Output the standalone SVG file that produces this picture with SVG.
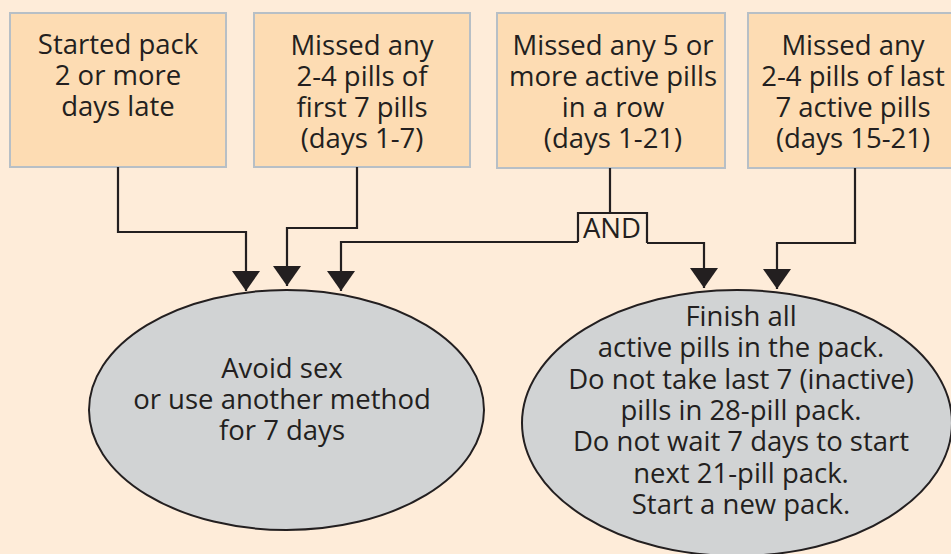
<svg xmlns="http://www.w3.org/2000/svg" width="951" height="554" viewBox="0 0 951 554">
<style>
.bg{fill:#feecd9}
.box{fill:#fddcb3;stroke:#b7bfc6;stroke-width:2}
.ell{fill:#d1d3d4;stroke:#231f20;stroke-width:2}
.t{font-family:"Open Sans","Noto Sans",sans-serif;font-size:27.5px;fill:#231f20;text-anchor:middle}
.c{fill:none;stroke:#231f20;stroke-width:2.2}
</style>
<defs>
<marker id="ah" markerUnits="userSpaceOnUse" viewBox="0 -14 20 28" markerWidth="20" markerHeight="28" refX="20" refY="0" orient="auto">
<path d="M0,-14 L20,0 L0,14 z" fill="#231f20"/>
</marker>
</defs>
<rect class="bg" x="0" y="0" width="951" height="554"/>
<g id="box1">
<rect class="box" x="10" y="13" width="216" height="154"/>
<text class="t" x="118" y="54"><tspan x="118">Started pack</tspan><tspan x="118" dy="31">2 or more</tspan><tspan x="118" dy="31">days late</tspan></text>
</g>
<g id="box2">
<rect class="box" x="254" y="13" width="216" height="154"/>
<text class="t" x="362" y="55"><tspan x="362">Missed any</tspan><tspan x="362" dy="31">2-4 pills of</tspan><tspan x="362" dy="31">first 7 pills</tspan><tspan x="362" dy="31">(days 1-7)</tspan></text>
</g>
<g id="box3">
<rect class="box" x="497" y="13" width="228" height="155"/>
<text class="t" x="613" y="55"><tspan x="613">Missed any 5 or</tspan><tspan x="613" dy="31">more active pills</tspan><tspan x="613" dy="31">in a row</tspan><tspan x="613" dy="31">(days 1-21)</tspan></text>
</g>
<g id="box4">
<rect class="box" x="748" y="13" width="220" height="155"/>
<text class="t" x="853" y="55"><tspan x="853">Missed any</tspan><tspan x="853" dy="31">2-4 pills of last</tspan><tspan x="853" dy="31">7 active pills</tspan><tspan x="853" dy="31">(days 15-21)</tspan></text>
</g>
<g id="connectors">
<path class="c" d="M118,167 V232 H246 V291" marker-end="url(#ah)"/>
<path class="c" d="M357,167 V228 H287 V286" marker-end="url(#ah)"/>
<path class="c" d="M610,168 V213"/>
<path class="c" d="M578,242 V213 H647 V243"/>
<path class="c" d="M578,242 H341 V291" marker-end="url(#ah)"/>
<path class="c" d="M647,243 H704 V288" marker-end="url(#ah)"/>
<path class="c" d="M855,168 V243 H777 V289" marker-end="url(#ah)"/>
<text class="t" x="612" y="238">AND</text>
</g>
<g id="ellipse1">
<ellipse class="ell" cx="286.5" cy="410" rx="197.5" ry="120"/>
<text class="t" x="282" y="378"><tspan x="282">Avoid sex</tspan><tspan x="282" dy="31">or use another method</tspan><tspan x="282" dy="31">for 7 days</tspan></text>
</g>
<g id="ellipse2">
<ellipse class="ell" cx="737" cy="423" rx="215" ry="133"/>
<text class="t" x="741" y="326"><tspan x="741">Finish all</tspan><tspan x="741" dy="31.3">active pills in the pack.</tspan><tspan x="741" dy="31.3">Do not take last 7 (inactive)</tspan><tspan x="741" dy="31.3">pills in 28-pill pack.</tspan><tspan x="741" dy="31.3">Do not wait 7 days to start</tspan><tspan x="741" dy="31.3">next 21-pill pack.</tspan><tspan x="741" dy="31.3">Start a new pack.</tspan></text>
</g>
</svg>
